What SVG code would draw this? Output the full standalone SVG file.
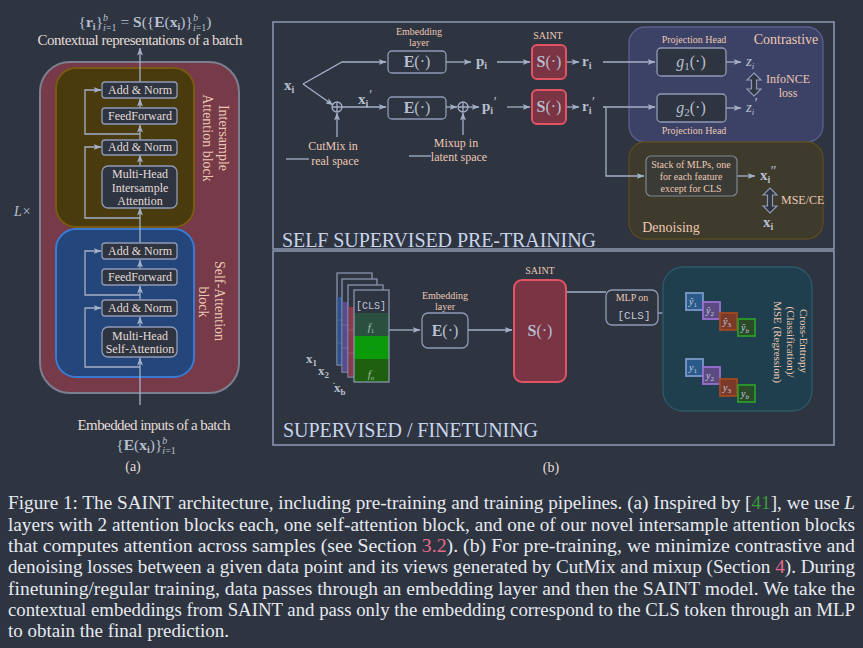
<svg xmlns="http://www.w3.org/2000/svg" width="863" height="648" viewBox="0 0 863 648">
<defs>
<style>
.ln{stroke:#a4b0c8;stroke-width:1.3;fill:none}
.bx{fill:#2e3440;stroke:#8f9bb6;stroke-width:1.3}
.t{font-family:"Liberation Serif",serif;fill:#e4dcd8}
.lab{font-family:"Liberation Serif",serif;fill:#ecc8b4}
.m{font-family:"Liberation Serif",serif;fill:#b8c0d0;font-weight:bold}
.mi{font-family:"Liberation Serif",serif;fill:#b8c0d0;font-style:italic}
.cap{font-family:"Liberation Serif",serif;fill:#e6eaf0;font-size:18px}
.dbl{fill:#2e3440;stroke:#8f9bb6;stroke-width:1.2}
.sq{stroke-width:1.8}
.sqt{font-family:"Liberation Serif",serif;fill:#c8d0e0;font-style:italic;font-size:10px}
.pr{font-size:14px;font-weight:normal;font-style:normal}
</style>
<marker id="ah" viewBox="0 0 8 6" refX="7.5" refY="3" markerWidth="8" markerHeight="6" orient="auto" markerUnits="userSpaceOnUse">
<path d="M0,0 L8,3 L0,6 L2,3 z" fill="#a4b0c8"/>
</marker>
</defs>
<rect width="863" height="648" fill="#2e3440"/>

<!-- ===== Panel (a) ===== -->
<g id="outer-layer">
<rect x="40" y="62" width="199" height="331" rx="30" fill="#763a48" stroke="#7c7f92" stroke-width="2"/>
</g>
<g id="intersample-block">
<rect x="56" y="68" width="138" height="159" rx="20" fill="#4a3b0e" stroke="#7a5a12" stroke-width="2"/>
<text class="lab" font-size="14" transform="translate(219,138) rotate(90)" text-anchor="middle">Intersample</text>
<text class="lab" font-size="14" transform="translate(203,138) rotate(90)" text-anchor="middle">Attention block</text>
</g>
<g id="selfattn-block">
<rect x="56" y="229" width="138" height="148" rx="20" fill="#24467a" stroke="#3a7ad2" stroke-width="2"/>
<text class="lab" font-size="14" transform="translate(215,301) rotate(90)" text-anchor="middle">Self-Attention</text>
<text class="lab" font-size="14" transform="translate(199,302) rotate(90)" text-anchor="middle">block</text>
</g>

<g id="connectors-a">
<line class="ln" x1="140" y1="405" x2="140" y2="358" marker-end="url(#ah)"/>
<line class="ln" x1="140" y1="327" x2="140" y2="317" marker-end="url(#ah)"/>
<line class="ln" x1="140" y1="300" x2="140" y2="286" marker-end="url(#ah)"/>
<line class="ln" x1="140" y1="269" x2="140" y2="260" marker-end="url(#ah)"/>
<line class="ln" x1="140" y1="243" x2="140" y2="208" marker-end="url(#ah)"/>
<line class="ln" x1="140" y1="166" x2="140" y2="155" marker-end="url(#ah)"/>
<line class="ln" x1="140" y1="140" x2="140" y2="125" marker-end="url(#ah)"/>
<line class="ln" x1="140" y1="108" x2="140" y2="99" marker-end="url(#ah)"/>
<line class="ln" x1="140" y1="82" x2="140" y2="48" marker-end="url(#ah)"/>
<path class="ln" d="M140,134 H85 V90 H101" marker-end="url(#ah)"/>
<path class="ln" d="M140,218 H85 V147 H101" marker-end="url(#ah)"/>
<path class="ln" d="M140,295 H85 V251 H101" marker-end="url(#ah)"/>
<path class="ln" d="M140,367 H85 V308 H101" marker-end="url(#ah)"/>
</g>

<g id="is-addnorm2"><rect class="bx" x="102" y="82" width="75" height="16" rx="3"/><text class="t" x="140" y="94" font-size="12" text-anchor="middle">Add &amp; Norm</text></g>
<g id="is-ff"><rect class="bx" x="102" y="108" width="75" height="16" rx="3"/><text class="t" x="140" y="120" font-size="12" text-anchor="middle">FeedForward</text></g>
<g id="is-addnorm1"><rect class="bx" x="102" y="140" width="75" height="15" rx="3"/><text class="t" x="140" y="151" font-size="12" text-anchor="middle">Add &amp; Norm</text></g>
<g id="is-attn"><rect class="bx" x="102" y="166" width="75" height="42" rx="6"/>
<text class="t" x="140" y="178" font-size="12" text-anchor="middle">Multi-Head</text>
<text class="t" x="140" y="192" font-size="12" text-anchor="middle">Intersample</text>
<text class="t" x="140" y="205" font-size="12" text-anchor="middle">Attention</text></g>

<g id="sa-addnorm2"><rect class="bx" x="102" y="243" width="75" height="16" rx="3"/><text class="t" x="140" y="255" font-size="12" text-anchor="middle">Add &amp; Norm</text></g>
<g id="sa-ff"><rect class="bx" x="102" y="269" width="75" height="16" rx="3"/><text class="t" x="140" y="281" font-size="12" text-anchor="middle">FeedForward</text></g>
<g id="sa-addnorm1"><rect class="bx" x="102" y="300" width="75" height="16" rx="3"/><text class="t" x="140" y="312" font-size="12" text-anchor="middle">Add &amp; Norm</text></g>
<g id="sa-attn"><rect class="bx" x="102" y="327" width="75" height="30" rx="6"/>
<text class="t" x="140" y="340" font-size="12" text-anchor="middle">Multi-Head</text>
<text class="t" x="140" y="353" font-size="12" text-anchor="middle">Self-Attention</text></g>

<g id="labels-a">
<text class="m" x="145" y="27" font-size="15.5" text-anchor="middle" fill="#a8b0c0"><tspan font-weight="normal">{</tspan>r<tspan font-size="10" dy="3">i</tspan><tspan font-weight="normal" dy="-3">}</tspan><tspan font-size="10" font-weight="normal" font-style="italic" dy="-6">b</tspan><tspan font-size="10" font-weight="normal" font-style="italic" dx="-5" dy="10">i</tspan><tspan font-size="10" font-weight="normal">=1</tspan><tspan dy="-4" font-weight="normal"> = </tspan>S<tspan font-weight="normal">({</tspan>E<tspan font-weight="normal">(</tspan>x<tspan font-size="10" dy="3">i</tspan><tspan font-weight="normal" dy="-3">)}</tspan><tspan font-size="10" font-weight="normal" font-style="italic" dy="-6">b</tspan><tspan font-size="10" font-weight="normal" font-style="italic" dx="-5" dy="10">i</tspan><tspan font-size="10" font-weight="normal">=1</tspan><tspan font-weight="normal" dy="-4">)</tspan></text>
<text class="t" x="140" y="45" font-size="15" text-anchor="middle" textLength="205">Contextual representations of a batch</text>
<text class="mi" x="14" y="216" font-size="14" font-weight="normal" fill="#8890a4">L×</text>
<text class="t" x="154" y="430" font-size="15" text-anchor="middle" textLength="153">Embedded inputs of a batch</text>
<text class="m" x="146" y="450" font-size="15.5" text-anchor="middle" fill="#a8b0c0"><tspan font-weight="normal">{</tspan>E<tspan font-weight="normal">(</tspan>x<tspan font-size="10" dy="3">i</tspan><tspan font-weight="normal" dy="-3">)}</tspan><tspan font-size="10" font-weight="normal" font-style="italic" dy="-6">b</tspan><tspan font-size="10" font-weight="normal" font-style="italic" dx="-5" dy="10">i</tspan><tspan font-size="10" font-weight="normal">=1</tspan></text>
<text class="t" x="133" y="471" font-size="14" text-anchor="middle">(a)</text>
</g>

<!-- ===== Panel (b) top ===== -->
<g id="frame-pretrain"><rect x="273" y="22" width="561" height="227" fill="none" stroke="#8f9bb6" stroke-width="1.5"/>
<text x="282" y="247" font-family="Liberation Serif, serif" font-size="20" fill="#c8d4ec" textLength="314">SELF SUPERVISED PRE-TRAINING</text></g>
<g id="frame-finetune"><rect x="273" y="251" width="561" height="194" fill="none" stroke="#8f9bb6" stroke-width="1.5"/>
<text x="283" y="437" font-family="Liberation Serif, serif" font-size="20" fill="#c8d4ec" textLength="255">SUPERVISED / FINETUNING</text></g>

<g id="contrastive"><rect x="629" y="27" width="194" height="115" rx="16" fill="#3c4266" stroke="#5a6090" stroke-width="1.3"/>
<text class="lab" x="786" y="44" font-size="14" text-anchor="middle">Contrastive</text>
<text class="lab" x="694" y="43" font-size="10" text-anchor="middle">Projection Head</text>
<text class="lab" x="694" y="134" font-size="10" text-anchor="middle">Projection Head</text>
<text class="lab" x="788" y="83" font-size="12" text-anchor="middle">InfoNCE</text>
<text class="lab" x="788" y="97" font-size="12" text-anchor="middle">loss</text></g>
<g id="denoising"><rect x="629" y="142" width="194" height="97" rx="16" fill="#3e3a2c" stroke="#5a4a20" stroke-width="1.3"/>
<text class="lab" x="671" y="232" font-size="14" text-anchor="middle">Denoising</text>
<text class="lab" x="781" y="204" font-size="12">MSE/CE</text></g>

<g id="connectors-b">
<path class="ln" d="M303,84 L342,62 H386" marker-end="url(#ah)"/>
<path class="ln" d="M303,84 L333,105" marker-end="url(#ah)"/>
<line class="ln" x1="342" y1="107" x2="386" y2="107" marker-end="url(#ah)"/>
<line class="ln" x1="337" y1="137" x2="337" y2="113" marker-end="url(#ah)"/>
<line class="ln" x1="446" y1="62" x2="471" y2="62" marker-end="url(#ah)"/>
<line class="ln" x1="497" y1="62" x2="530" y2="62" marker-end="url(#ah)"/>
<line class="ln" x1="566" y1="62" x2="579" y2="62" marker-end="url(#ah)"/>
<line class="ln" x1="446" y1="107" x2="457" y2="107" marker-end="url(#ah)"/>
<line class="ln" x1="468" y1="107" x2="479" y2="107" marker-end="url(#ah)"/>
<line class="ln" x1="463" y1="135" x2="463" y2="113" marker-end="url(#ah)"/>
<line class="ln" x1="507" y1="107" x2="530" y2="107" marker-end="url(#ah)"/>
<line class="ln" x1="566" y1="107" x2="579" y2="107" marker-end="url(#ah)"/>
<line class="ln" x1="603" y1="62" x2="655" y2="62" marker-end="url(#ah)"/>
<line class="ln" x1="603" y1="107" x2="655" y2="107" marker-end="url(#ah)"/>
<path class="ln" d="M606,107 V176 H644" marker-end="url(#ah)"/>
<line class="ln" x1="726" y1="62" x2="741" y2="62" marker-end="url(#ah)"/>
<line class="ln" x1="726" y1="108" x2="741" y2="108" marker-end="url(#ah)"/>
<line class="ln" x1="737" y1="176" x2="755" y2="176" marker-end="url(#ah)"/>
<line class="ln" x1="286" y1="159" x2="309" y2="159"/>
<line class="ln" x1="409" y1="156" x2="431" y2="156"/>
<line class="ln" x1="389" y1="330" x2="420" y2="330" marker-end="url(#ah)"/>
<line class="ln" x1="468" y1="330" x2="512" y2="330" marker-end="url(#ah)"/>
<line class="ln" x1="566" y1="292" x2="606" y2="292"/>
<line class="ln" x1="658" y1="313" x2="679" y2="313" marker-end="url(#ah)"/>
<path class="dbl" d="M754,73 L761,80 H756.5 V89 H761 L754,96 L747,89 H751.5 V80 H747 Z"/>
<path class="dbl" d="M770,188 L777,195 H772.5 V206 H777 L770,213 L763,206 H767.5 V195 H763 Z"/>
<path class="dbl" d="M726,336 L734,345 H729 V362 H734 L726,371 L718,362 H723 V345 H718 Z"/>
</g>

<g id="xi"><text class="m" x="284" y="90" font-size="15">x<tspan font-size="10" dy="3">i</tspan></text></g>
<g id="cutmix"><circle class="ln" cx="337" cy="107" r="5"/><path class="ln" d="M332,107 H342 M337,102 V112"/>
<text class="lab" x="333" y="150" font-size="12" text-anchor="middle">CutMix in</text>
<text class="lab" x="335" y="165" font-size="12" text-anchor="middle">real space</text>
<text class="m" x="358" y="104" font-size="15">x<tspan font-size="10" dy="3">i</tspan><tspan class="pr" dx="1" dy="-7">′</tspan></text></g>
<g id="emb1"><rect class="bx" x="388" y="51" width="58" height="22" rx="4"/>
<text class="m" x="417" y="67" font-size="16" text-anchor="middle">E<tspan font-weight="normal">(·)</tspan></text>
<text class="lab" x="419" y="35" font-size="10" text-anchor="middle">Embedding</text>
<text class="lab" x="419" y="46" font-size="10" text-anchor="middle">layer</text></g>
<g id="emb2"><rect class="bx" x="388" y="97" width="58" height="22" rx="4"/>
<text class="m" x="417" y="113" font-size="16" text-anchor="middle">E<tspan font-weight="normal">(·)</tspan></text></g>
<g id="mixup"><circle class="ln" cx="463" cy="107" r="5"/><path class="ln" d="M458,107 H468 M463,102 V112"/>
<text class="lab" x="456" y="147" font-size="12" text-anchor="middle">Mixup in</text>
<text class="lab" x="459" y="161" font-size="12" text-anchor="middle">latent space</text></g>
<g id="pi"><text class="m" x="476" y="66" font-size="15">p<tspan font-size="10" dy="3">i</tspan></text>
<text class="m" x="482" y="111" font-size="15">p<tspan font-size="10" dy="3">i</tspan><tspan class="pr" dx="0.5" dy="-7">′</tspan></text></g>
<g id="saint1"><rect x="532" y="45" width="34" height="34" rx="5" fill="#7a3444" stroke="#e05464" stroke-width="2"/>
<text class="m" x="549" y="67" font-size="16" text-anchor="middle">S<tspan font-weight="normal">(·)</tspan></text>
<text class="lab" x="548" y="39" font-size="10" text-anchor="middle">SAINT</text></g>
<g id="saint2"><rect x="532" y="90" width="34" height="34" rx="5" fill="#7a3444" stroke="#e05464" stroke-width="2"/>
<text class="m" x="549" y="112" font-size="16" text-anchor="middle">S<tspan font-weight="normal">(·)</tspan></text></g>
<g id="ri"><text class="m" x="582" y="66" font-size="15">r<tspan font-size="10" dy="3">i</tspan></text>
<text class="m" x="582" y="111" font-size="15">r<tspan font-size="10" dy="3">i</tspan><tspan class="pr" dx="0.5" dy="-7">′</tspan></text></g>
<g id="g1"><rect class="bx" x="657" y="48" width="69" height="28" rx="4" fill="#393f5e"/>
<text class="mi" x="691" y="67" font-size="16" font-weight="normal" text-anchor="middle">g<tspan font-style="normal" font-size="11" dy="3">1</tspan><tspan font-style="normal" dy="-3">(·)</tspan></text></g>
<g id="g2"><rect class="bx" x="657" y="94" width="69" height="28" rx="4" fill="#393f5e"/>
<text class="mi" x="691" y="113" font-size="16" font-weight="normal" text-anchor="middle">g<tspan font-style="normal" font-size="11" dy="3">2</tspan><tspan font-style="normal" dy="-3">(·)</tspan></text></g>
<g id="zi"><text class="mi" x="746" y="66" font-size="15">z<tspan font-size="9" dy="3">i</tspan></text>
<text class="mi" x="746" y="112" font-size="15">z<tspan font-size="9" dy="3">i</tspan><tspan class="pr" dx="0.5" dy="-7">′</tspan></text></g>
<g id="mlp-stack"><rect x="646" y="156" width="91" height="40" rx="5" fill="#3a3b37" stroke="#7f8792" stroke-width="1.2"/>
<text class="lab" x="691" y="168" font-size="10" text-anchor="middle">Stack of MLPs, one</text>
<text class="lab" x="691" y="180" font-size="10" text-anchor="middle">for each feature</text>
<text class="lab" x="691" y="192" font-size="10" text-anchor="middle">except for CLS</text></g>
<g id="xpp"><text class="m" x="760" y="180" font-size="15">x<tspan font-size="10" dy="3">i</tspan><tspan class="pr" dx="0.5" dy="-7">″</tspan></text>
<text class="m" x="763" y="227" font-size="15">x<tspan font-size="10" dy="3">i</tspan></text></g>

<!-- ===== Panel (b) bottom ===== -->
<g id="batch-cards">
<rect x="337" y="273" width="35" height="92" fill="#2e3440" stroke="#8f9bb6" stroke-width="1.2"/>
<rect x="337.6" y="297" width="5" height="67.4" fill="#2b5290"/>
<path d="M337,320 H342 M337,343 H342" stroke="#5a7ab0" stroke-width="0.6"/>
<rect x="342" y="279" width="35" height="93" fill="#2e3440" stroke="#8f9bb6" stroke-width="1.2"/>
<rect x="342.6" y="302" width="5.5" height="69.4" fill="#5b4a8e"/>
<path d="M342,325 H348 M342,348 H348" stroke="#8a7ab0" stroke-width="0.6"/>
<rect x="348" y="285" width="35" height="92" fill="#2e3440" stroke="#8f9bb6" stroke-width="1.2"/>
<rect x="348.6" y="307" width="5.5" height="69.4" fill="#8a3a4c"/>
<path d="M348,330 H354 M348,353 H354" stroke="#b06a7a" stroke-width="0.6"/>
<rect x="354" y="290" width="35" height="92" fill="#2e3440"/>
<rect x="354" y="313" width="35" height="23" fill="#2a5040"/>
<rect x="354" y="336" width="35" height="23" fill="#0a9a0a"/>
<rect x="354" y="359" width="35" height="23" fill="#1f5f10"/>
<rect x="354" y="290" width="35" height="92" fill="none" stroke="#8f9bb6" stroke-width="1.2"/>
<text x="371" y="309" font-family="Liberation Mono, monospace" font-size="10" fill="#c0c8d8" text-anchor="middle">[CLS]</text>
<text x="371" y="331" font-family="Liberation Serif, serif" font-style="italic" font-size="11" fill="#a8c0b0" text-anchor="middle">f<tspan font-size="7" font-style="normal" dy="2">1</tspan></text>
<text x="371" y="349" font-family="Liberation Serif, serif" font-size="8" fill="#3a6a8a" text-anchor="middle">..</text>
<text x="371" y="378" font-family="Liberation Serif, serif" font-style="italic" font-size="11" fill="#a8c0a0" text-anchor="middle">f<tspan font-size="7" dy="2">n</tspan></text>
<text class="m" x="306" y="363" font-size="13">x<tspan font-size="9" dy="3">1</tspan></text>
<text class="m" x="318" y="375" font-size="13">x<tspan font-size="9" dy="3">2</tspan></text>
<text class="m" x="333" y="384" font-size="8">.</text>
<text class="m" x="334" y="392" font-size="13">x<tspan font-size="9" dy="3">b</tspan></text>
</g>
<g id="emb-ft"><rect class="bx" x="422" y="313" width="46" height="35" rx="6"/>
<text class="m" x="445" y="336" font-size="16" text-anchor="middle">E<tspan font-weight="normal">(·)</tspan></text>
<text class="lab" x="445" y="299" font-size="10" text-anchor="middle">Embedding</text>
<text class="lab" x="445" y="310" font-size="10" text-anchor="middle">layer</text></g>
<g id="saint-ft"><rect x="514" y="280" width="52" height="102" rx="8" fill="#7a3444" stroke="#e05464" stroke-width="2"/>
<text class="m" x="540" y="336" font-size="16" text-anchor="middle">S<tspan font-weight="normal">(·)</tspan></text>
<text class="lab" x="540" y="274" font-size="10" text-anchor="middle">SAINT</text></g>
<g id="mlp-cls"><rect class="bx" x="606" y="290" width="52" height="35" rx="6"/>
<text class="lab" x="632" y="301" font-size="10" text-anchor="middle">MLP on</text>
<text x="634" y="319" font-family="Liberation Mono, monospace" font-size="11" fill="#c0c8d8" text-anchor="middle">[CLS]</text></g>
<g id="loss-ft"><rect x="663" y="267" width="149" height="144" rx="20" fill="#1f3f4f" stroke="#2b5b6b" stroke-width="1.3"/>
<text class="lab" font-size="11" transform="translate(800,341) rotate(90)" text-anchor="middle">Cross-Entropy</text>
<text class="lab" font-size="11" transform="translate(787,342) rotate(90)" text-anchor="middle">(Classification)/</text>
<text class="lab" font-size="11" transform="translate(774,342) rotate(90)" text-anchor="middle">MSE (Regression)</text>
<rect class="sq" x="686" y="293" width="17" height="17" fill="#2a5a8a" stroke="#7a9ac8"/>
<rect class="sq" x="703" y="302" width="17" height="17" fill="#5a4a80" stroke="#9a70d0"/>
<rect class="sq" x="720" y="313" width="17" height="17" fill="#7a3a2a" stroke="#a04a20"/>
<rect class="sq" x="738" y="319" width="17" height="17" fill="#2a4a2a" stroke="#2a9a2a"/>
<text class="sqt" x="693" y="305" text-anchor="middle">ŷ<tspan font-size="7" font-style="normal" dy="2">1</tspan></text>
<text class="sqt" x="710" y="314" text-anchor="middle">ŷ<tspan font-size="7" font-style="normal" dy="2">2</tspan></text>
<text class="sqt" x="727" y="325" text-anchor="middle">ŷ<tspan font-size="7" font-style="normal" dy="2">3</tspan></text>
<text class="sqt" x="745" y="331" text-anchor="middle">ŷ<tspan font-size="7" dy="2">b</tspan></text>
<rect class="sq" x="686" y="359" width="17" height="17" fill="#2a5a8a" stroke="#7a9ac8"/>
<rect class="sq" x="703" y="367" width="17" height="17" fill="#5a4a80" stroke="#9a70d0"/>
<rect class="sq" x="720" y="379" width="17" height="17" fill="#7a3a2a" stroke="#a04a20"/>
<rect class="sq" x="738" y="385" width="17" height="17" fill="#2a4a2a" stroke="#2a9a2a"/>
<text class="sqt" x="693" y="371" text-anchor="middle">y<tspan font-size="7" font-style="normal" dy="2">1</tspan></text>
<text class="sqt" x="710" y="379" text-anchor="middle">y<tspan font-size="7" font-style="normal" dy="2">2</tspan></text>
<text class="sqt" x="727" y="391" text-anchor="middle">y<tspan font-size="7" font-style="normal" dy="2">3</tspan></text>
<text class="sqt" x="745" y="397" text-anchor="middle">y<tspan font-size="7" dy="2">b</tspan></text>
</g>
<text class="t" x="551" y="472" font-size="14" text-anchor="middle">(b)</text>

<!-- ===== Caption ===== -->
<g id="caption">
<text class="cap" x="8" y="509" textLength="847" lengthAdjust="spacingAndGlyphs">Figure 1: The SAINT architecture, including pre-training and training pipelines. (a) Inspired by [<tspan fill="#3a9a3a">41</tspan>], we use <tspan font-style="italic">L</tspan></text>
<text class="cap" x="8" y="530.5" textLength="847" lengthAdjust="spacingAndGlyphs">layers with 2 attention blocks each, one self-attention block, and one of our novel intersample attention blocks</text>
<text class="cap" x="8" y="552" textLength="847" lengthAdjust="spacingAndGlyphs">that computes attention across samples (see Section <tspan fill="#e86a88">3.2</tspan>). (b) For pre-training, we minimize contrastive and</text>
<text class="cap" x="8" y="573" textLength="847" lengthAdjust="spacingAndGlyphs">denoising losses between a given data point and its views generated by CutMix and mixup (Section <tspan fill="#e86a88">4</tspan>). During</text>
<text class="cap" x="8" y="594.5" textLength="847" lengthAdjust="spacingAndGlyphs">finetuning/regular training, data passes through an embedding layer and then the SAINT model. We take the</text>
<text class="cap" x="8" y="616" textLength="847" lengthAdjust="spacingAndGlyphs">contextual embeddings from SAINT and pass only the embedding correspond to the CLS token through an MLP</text>
<text class="cap" x="8" y="637" textLength="221" lengthAdjust="spacingAndGlyphs">to obtain the final prediction.</text>
</g>
</svg>
